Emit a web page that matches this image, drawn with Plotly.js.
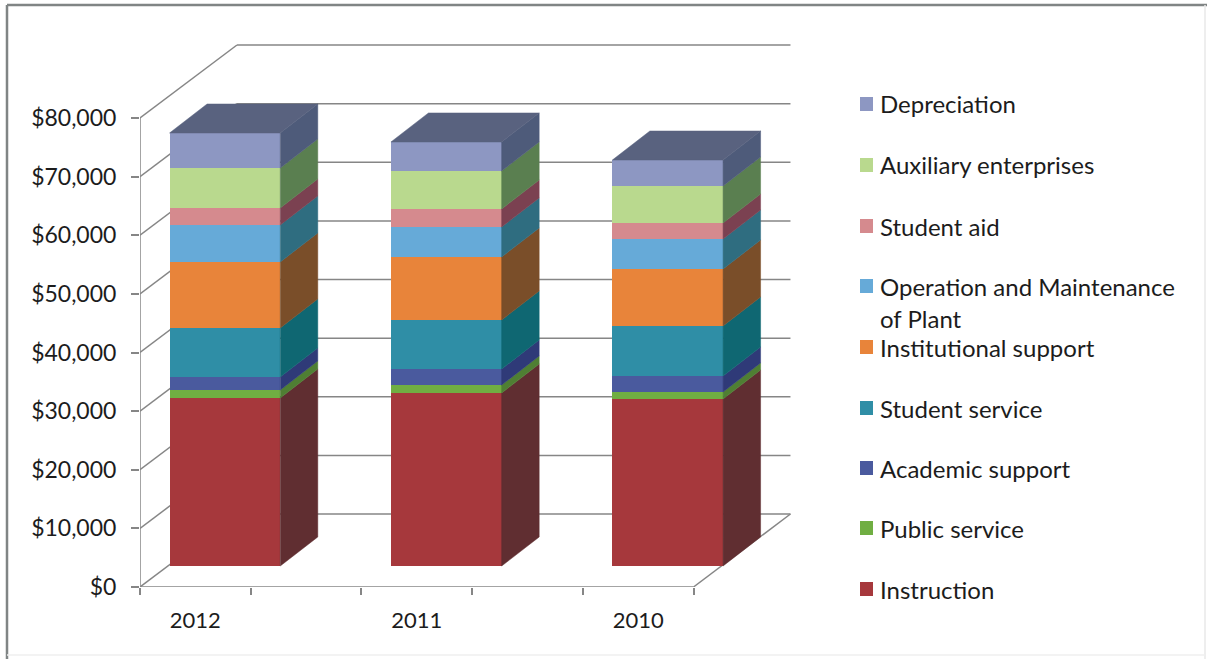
<!DOCTYPE html>
<html>
<head>
<meta charset="utf-8">
<script src="https://cdn.plot.ly/plotly-3.0.1.min.js"></script>
<style>html,body{margin:0;padding:0;background:#fff}</style>
</head>
<body>
<div id="chart" style="width:1207px;height:659px"></div>
<script>
// Fiscal years, left to right
const years = ['2012', '2011', '2010'];

// Expenses by function, as plotted against the dollar axis
const instruction   = [28660, 29510, 28490];
const publicService = [1360, 1360, 1190];
const academic      = [2220, 2730, 2730];
const studentSvc    = [8360, 8360, 8530];
const institutional = [11260, 10750, 9720];
const operation     = [6310, 5120, 5120];
const studentAid    = [2900, 3070, 2730];
const auxiliary     = [6820, 6480, 6310];
const depreciation  = [5970, 4950, 4430];

const seriesNames = ['Instruction', 'Public service', 'Academic support', 'Student service',
  'Institutional support', 'Operation and Maintenance<br>of Plant', 'Student aid',
  'Auxiliary enterprises', 'Depreciation'];
const seriesValues = [instruction, publicService, academic, studentSvc, institutional,
  operation, studentAid, auxiliary, depreciation];
const frontColors = ['#a6383c', '#70ae42', '#4a5a9e', '#2f8ea6', '#e8843a', '#66aad8', '#d58a8e', '#b9d98e', '#8d97c2'];
const sideColors  = ['#602e31', '#4f7f33', '#2f3a78', '#0f6772', '#7a4e29', '#2f6d80', '#7b4151', '#5a7f50', '#4e5b7a'];
const topColor = '#59627f';

const yTicks = [0, 10000, 20000, 30000, 40000, 50000, 60000, 70000, 80000];
const yTickText = ['$0', '$10,000', '$20,000', '$30,000', '$40,000', '$50,000', '$60,000', '$70,000', '$80,000'];

// Oblique projection: all depth offsets are expressed in axis units
const wallDepth  = { x: 0.876, y: 12450 };
const barFront   = { x: 0.267, y: 3580 };
const barDepth   = { x: 0.339, y: 4950 };
const barWidth   = 1.0;
const xSlots     = [0.5, 2.5, 4.5];

const W = 1207, H = 659, L = 140, R = 800, T = 40, B = 587;
const xMax = (R - L) / 110.7;
const yMax = (B - T) / 5.8625 * 1000;
const font = 'Lato, Carlito, sans-serif';
const axisGrey = '#868686', textColor = '#1c1c1c';

// Pixel helpers for the frame and the hand-placed key
const px = v => (v - L) / (R - L);
const py = v => (B - v) / (B - T);

const traces = [];
const running = years.map(() => barFront.y);
const faces = seriesValues.map(values => {
  const side = { x: [], y: [] };
  values.forEach((v, i) => {
    const right = xSlots[i] + barFront.x + barWidth / 2;
    const lo = running[i], hi = lo + v;
    side.x.push(right, right + barDepth.x, right + barDepth.x, right, right, null);
    side.y.push(lo, lo + barDepth.y, hi + barDepth.y, hi, lo, null);
  });
  const bases = running.slice();
  values.forEach((v, i) => { running[i] += v; });
  return { side, bases };
});

// Front faces
seriesValues.forEach((values, s) => {
  traces.push({
    type: 'bar', name: seriesNames[s].replace('<br>', ' '),
    x: xSlots.map(x => x + barFront.x), y: values, base: faces[s].bases,
    width: barWidth, marker: { color: frontColors[s], line: { width: 0 } },
    showlegend: false, customdata: years,
    hovertemplate: '%{customdata}: $%{y:,}<extra>%{fullData.name}</extra>'
  });
});

// Right-hand faces
seriesValues.forEach((values, s) => {
  traces.push({
    type: 'scatter', mode: 'lines', x: faces[s].side.x, y: faces[s].side.y,
    fill: 'toself', fillcolor: sideColors[s],
    line: { color: sideColors[s], width: 0.5 }, hoverinfo: 'skip', showlegend: false
  });
});

// Top caps
const capX = [], capY = [];
years.forEach((_, i) => {
  const left = xSlots[i] + barFront.x - barWidth / 2, right = left + barWidth, top = running[i];
  capX.push(left, right, right + barDepth.x, left + barDepth.x, left, null);
  capY.push(top, top, top + barDepth.y, top + barDepth.y, top, null);
});
traces.push({
  type: 'scatter', mode: 'lines', x: capX, y: capY, fill: 'toself', fillcolor: topColor,
  line: { color: topColor, width: 0.5 }, hoverinfo: 'skip', showlegend: false
});

// Walls, floor and axis lines sit under the columns
const line = (x0, y0, x1, y1, xref = 'x', yref = 'y', width = 1.5, color = axisGrey) => ({
  type: 'line', layer: 'below', xref, yref, x0, y0, x1, y1, line: { color, width }
});
const shapes = [];
yTicks.forEach(v => {
  shapes.push(line(0, v, wallDepth.x, v + wallDepth.y));
  shapes.push(line(wallDepth.x, v + wallDepth.y, 5 + wallDepth.x, v + wallDepth.y));
});
shapes.push(line(0, 0, 0, 80000));
shapes.push(line(0, 0, 5, 0));
shapes.push(line(5, 0, 5 + wallDepth.x, wallDepth.y));

// Outer frame: strong top and left edges, faint right and bottom edges
shapes.push(line(px(7), py(5), px(1207), py(5), 'paper', 'paper', 2.5, '#808585'));
shapes.push(line(px(7), py(5), px(7), py(659), 'paper', 'paper', 2.5, '#808585'));
shapes.push(line(px(1205), py(5), px(1205), py(659), 'paper', 'paper', 1.5, '#e8e8e8'));
shapes.push(line(px(7), py(655), px(1205), py(655), 'paper', 'paper', 1.5, '#efefef'));

// Key, listed from the top of the stack down
const keyRows = [104, 165, 226, 286, 347, 408, 468, 528, 589];
const annotations = [];
seriesNames.slice().reverse().forEach((name, r) => {
  const yc = keyRows[r];
  const color = frontColors[seriesNames.length - 1 - r];
  shapes.push({ type: 'rect', layer: 'above', xref: 'paper', yref: 'paper',
    x0: px(860), x1: px(873), y0: py(yc - 7), y1: py(yc + 7), fillcolor: color, line: { width: 0 } });
  name.split('<br>').forEach((part, k) => {
    annotations.push({ xref: 'paper', yref: 'paper', x: px(878), y: py(yc + k * 32),
      xanchor: 'left', yanchor: 'middle', showarrow: false, text: part,
      font: { family: font, size: 24, color: textColor } });
  });
});

const layout = {
  width: W, height: H, autosize: false, showlegend: false,
  margin: { l: L, r: W - R, t: T, b: H - B, pad: 0 },
  paper_bgcolor: '#ffffff', plot_bgcolor: 'rgba(0,0,0,0)',
  barmode: 'overlay', bargap: 0, font: { family: font, color: textColor },
  hovermode: 'closest',
  xaxis: {
    range: [0, xMax], tickmode: 'array', tickvals: xSlots, ticktext: years, ticks: '',
    ticklabelstandoff: 18, tickfont: { family: font, size: 22, color: textColor },
    showgrid: false, zeroline: false, showline: false, fixedrange: true,
    minor: { tickmode: 'array', tickvals: [0, 1, 2, 3, 4, 5], ticks: 'outside', ticklen: 7, tickwidth: 1.5, tickcolor: axisGrey, showgrid: false }
  },
  yaxis: {
    range: [0, yMax], tickmode: 'array', tickvals: yTicks, ticktext: yTickText, ticks: 'outside',
    ticklen: 8, tickwidth: 1.5, tickcolor: axisGrey, ticklabelstandoff: 10,
    tickfont: { family: font, size: 23, color: textColor },
    showgrid: false, zeroline: false, showline: false, fixedrange: true
  },
  shapes, annotations
};

Plotly.newPlot('chart', traces, layout, { displayModeBar: false, responsive: false });
</script>
</body>
</html>
